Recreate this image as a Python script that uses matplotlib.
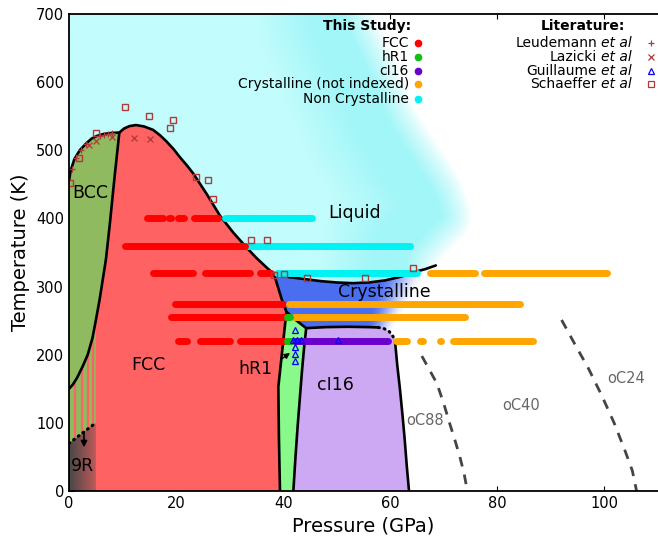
import numpy as np
import matplotlib.pyplot as plt
from matplotlib.patches import Polygon

# ---- phase boundaries (pressure GPa, temperature K) ----
bcc_melt_P = [0, 0.3, 1.0, 2.0, 3.2, 4.2, 5.2, 6.5, 8.0, 9.4]
bcc_melt_T = [455, 470, 487, 500, 510, 517, 521, 524, 525.5, 526]
fcc_melt_P = [9.4, 10.3, 11.3, 12.5, 14.0, 15.7, 17.0, 18.2, 19.5, 20.7, 22.0,
              23.2, 25.7, 28.2, 30.7, 33.2, 35.0, 36.9, 38.3]
fcc_melt_T = [526, 532, 535.5, 537, 535, 530, 522, 513, 502, 490, 478,
              466, 436, 404, 379, 357, 342, 328, 318]
cryst_melt_P = [38.3, 41, 44, 47, 50, 53, 56, 59, 62, 64.3, 66.5, 68.5]
cryst_melt_T = [318, 314, 311, 308, 306, 305, 306, 309, 314.5, 321, 325.5, 331]
bcc_fcc_P = [9.4, 8.5, 7.6, 6.9, 6.4, 5.7, 5.0, 4.4, 3.5, 2.5, 1.5, 0.7, 0]
bcc_fcc_T = [526, 460, 390, 340, 315, 280, 250, 225, 200, 182, 166, 156, 150]
fcc_cryst_P = [38.3, 39.0, 39.7, 40.6]
fcc_cryst_T = [318, 300, 282, 263]
fcc_hr1_P = [40.6, 39.1, 39.2, 39.4]
fcc_hr1_T = [263, 153, 80, 0]
hr1_top_P = [40.6, 42.5, 44.3]
hr1_top_T = [263, 250, 239]
hr1_ci16_P = [44.3, 43.9, 43.5, 43.1, 42.7, 42.3, 41.9]
hr1_ci16_T = [239, 210, 175, 135, 95, 50, 0]
ci16_top_P = [44.3, 48, 52, 56, 57.8]
ci16_top_T = [239, 240.5, 241, 240.5, 240]
ci16_dot_P = [57.8, 58.8, 59.8, 60.5, 60.9]
ci16_dot_T = [240, 238.5, 234, 227, 219]
ci16_right_P = [60.9, 61.3, 61.8, 62.3, 62.7, 63.1, 63.5]
ci16_right_T = [219, 185, 150, 110, 75, 35, 0]
r9_P = [0, 5]
r9_T = [70, 100]
liquid_edge_P = [57.0, 61.0, 64.8, 68.0, 71.0, 73.6, 75.0, 75.2, 74.2, 72.5, 70.5, 68.5]
liquid_edge_T = [700, 632, 560, 520, 485, 450, 415, 395, 378, 365, 348, 331]
oc88_P = [65.9, 67.3, 68.7, 70.0, 71.1, 72.1, 73.0, 73.8, 74.4]
oc88_T = [198, 178, 158, 128, 99, 74, 50, 25, 0]
oc24_P = [92.0, 94.5, 97.0, 99.5, 101.8, 103.8, 105.2, 106.0]
oc24_T = [251, 215, 180, 140, 100, 60, 30, 0]
stripe_P = [1.2, 2.35, 3.5, 4.5]

# ---- this study: runs of measured points (T, P start, P end) ----
fcc_runs = [(400, 14.6, 17.6), (400, 18.6, 19.0), (400, 20.3, 21.5), (400, 23.3, 27.9),
            (360, 10.4, 32.9),
            (320, 15.7, 23.2), (320, 25.4, 33.8), (320, 35.6, 37.8),
            (275, 19.8, 40.0),
            (255, 19.1, 40.5),
            (220, 20.4, 22.0), (220, 24.4, 30.1), (220, 31.9, 40.2)]
hr1_runs = [(255, 40.8, 41.2), (220, 40.7, 41.6)]
ci16_runs = [(220, 42.2, 59.6)]
cryst_runs = [(320, 67.4, 75.8), (320, 77.5, 100.4),
              (275, 41.0, 84.2),
              (255, 42.0, 74.0),
              (220, 61.1, 63.1), (220, 65.5, 66.2), (220, 69.2, 69.4), (220, 71.7, 86.7)]
noncryst_runs = [(400, 29.1, 45.3), (360, 33.4, 63.6), (320, 38.9, 64.9)]

# ---- literature ----
leud_P = [0.5, 1.3, 2.2, 3.2, 5.8, 6.6, 7.3, 8.1]
leud_T = [472, 488, 500, 509, 521, 523, 524.5, 525.5]
lazi_P = [3.7, 5.0, 8.0, 12.1, 15.1]
lazi_T = [508, 514, 519, 518, 516]
guil_P = [42.2, 41.9, 42.5, 43.3, 42.2, 42.2, 42.2, 50.2]
guil_T = [236, 221, 221, 221, 211, 201, 191, 221]
scha_P = [0.1, 1.9, 5.0, 10.5, 14.9, 18.9, 19.5, 23.7, 25.9, 26.8, 33.9, 37.0,
          38.3, 40.2, 44.5, 55.3, 64.3]
scha_T = [452, 489, 526, 563, 551, 533, 544, 461, 456, 428, 369, 368,
          317, 319, 313, 312, 327]

study_labels = ['FCC', 'hR1', 'cI16', 'Crystalline (not indexed)', 'Non Crystalline']
study_colors = ['#ff0000', '#10c010', '#6a00cc', '#ffa500', '#00f2f2']
lit_labels = ['Leudemann', 'Lazicki', 'Guillaume', 'Schaeffer']

c_fcc = '#ff6262'
c_bcc = '#8fba5f'
c_hr1 = '#88f98a'
c_ci16 = '#cda9f3'
c_blue = np.array([74, 110, 240]) / 255

plt.rcParams['font.family'] = 'DejaVu Sans'
fig = plt.figure(figsize=(6.58, 5.37), dpi=100)
ax = fig.add_axes([69 / 658, 46 / 537, 589 / 658, 477 / 537])
ax.set_xlim(0, 110)
ax.set_ylim(0, 700)
sx, sy = 589 / 110, 477 / 700  # pixels per unit


def pts(P, T):
    return list(zip(P, T))


def rev(P, T):
    return list(zip(P[::-1], T[::-1]))


# ---- liquid, soft cyan fill fading to white at its right edge ----
gP, gT = np.meshgrid(np.linspace(0, 110, 440), np.linspace(0, 700, 480))
d = np.full(gP.shape, 1e9)
for i in range(len(liquid_edge_P) - 1):
    ax_, ay_ = liquid_edge_P[i] * sx, liquid_edge_T[i] * sy
    bx, by = liquid_edge_P[i + 1] * sx, liquid_edge_T[i + 1] * sy
    dx, dy = bx - ax_, by - ay_
    u, v = gP * sx, gT * sy
    t = np.clip(((u - ax_) * dx + (v - ay_) * dy) / (dx * dx + dy * dy), 0, 1)
    d = np.minimum(d, np.hypot(u - (ax_ + t * dx), v - (ay_ + t * dy)))
white = np.ones(3)
bright = np.array([162, 246, 248]) / 255
pale = np.array([194, 252, 252]) / 255
a = np.clip(d / 30, 0, 1)[..., None] ** 0.8
b = np.clip((d - 62) / 55, 0, 1)[..., None]
liq = (white * (1 - a) + bright * a) * (1 - b) + pale * b
liq_poly = Polygon([(0, 700)] + pts(liquid_edge_P, liquid_edge_T)
                   + rev(cryst_melt_P, cryst_melt_T)[1:]
                   + rev(fcc_melt_P, fcc_melt_T)[1:]
                   + rev(bcc_melt_P, bcc_melt_T)[1:],
                   closed=True, transform=ax.transData)
im = ax.imshow(liq, origin='lower', extent=[0, 110, 0, 700], aspect='auto',
               interpolation='bilinear', zorder=1)
im.set_clip_path(liq_poly)

# ---- crystalline (blue) fading out towards higher pressure ----
p0 = 55.5 + 0.03 * (gT - 240)
p1 = 61.0 + 0.08 * (gT - 240)
f = np.clip((gP - p0) / (p1 - p0), 0, 1)
alpha = 1 - f * f * (3 - 2 * f)
cry = np.zeros(gP.shape + (4,))
cry[..., :3] = c_blue
cry[..., 3] = alpha
cry_poly = Polygon(pts(cryst_melt_P, cryst_melt_T) + [(ci16_dot_P[-1], ci16_dot_T[-1])]
                   + rev(ci16_dot_P, ci16_dot_T)[1:] + rev(ci16_top_P, ci16_top_T)[1:]
                   + rev(hr1_top_P, hr1_top_T)[1:] + rev(fcc_cryst_P, fcc_cryst_T)[1:],
                   closed=True, transform=ax.transData)
im2 = ax.imshow(cry, origin='lower', extent=[0, 110, 0, 700], aspect='auto',
                interpolation='bilinear', zorder=1)
im2.set_clip_path(cry_poly)

# ---- solid phases ----
fcc_poly = [(0, 0)] + rev(fcc_hr1_P, fcc_hr1_T) + rev(fcc_cryst_P, fcc_cryst_T)[1:] \
    + rev(fcc_melt_P, fcc_melt_T)[1:] + pts(bcc_fcc_P, bcc_fcc_T)[1:]
ax.add_patch(Polygon(fcc_poly, closed=True, fc=c_fcc, ec='none', zorder=1.5))
bcc_poly = pts(bcc_melt_P, bcc_melt_T) + pts(bcc_fcc_P, bcc_fcc_T)[1:]
ax.add_patch(Polygon(bcc_poly, closed=True, fc=c_bcc, ec='none', zorder=1.5))
hr1_poly = pts(hr1_top_P, hr1_top_T) + pts(hr1_ci16_P, hr1_ci16_T)[1:] \
    + rev(fcc_hr1_P, fcc_hr1_T)[:-1]
ax.add_patch(Polygon(hr1_poly, closed=True, fc=c_hr1, ec='none', zorder=1.5))
ci16_poly = pts(ci16_top_P, ci16_top_T) + pts(ci16_dot_P, ci16_dot_T)[1:] \
    + pts(ci16_right_P, ci16_right_T)[1:] + rev(hr1_ci16_P, hr1_ci16_T)[:-1]
ax.add_patch(Polygon(ci16_poly, closed=True, fc=c_ci16, ec='none', zorder=1.5))

# 9R corner: grey-to-red gradient below the dotted line
r9_poly = Polygon([(0, 0), (r9_P[1], 0), (r9_P[1], r9_T[1]), (r9_P[0], r9_T[0])],
                  closed=True, transform=ax.transData)
xs = np.linspace(0, 1, 64)
grad = np.array([72, 72, 72]) / 255 * (1 - xs[:, None]) + np.array([190, 88, 88]) / 255 * xs[:, None]
im3 = ax.imshow(grad[None, :, :], origin='lower', extent=[0, r9_P[1], 0, r9_T[1]],
                aspect='auto', interpolation='bilinear', zorder=1.6)
im3.set_clip_path(r9_poly)
ax.set_xlim(0, 110)
ax.set_ylim(0, 700)

# striped mixed region between 9R and BCC
keep = [i for i in range(len(bcc_fcc_P)) if bcc_fcc_P[i] <= r9_P[1]]
stripe_poly = Polygon([(r9_P[0], r9_T[0]), (r9_P[1], r9_T[1])]
                      + [(bcc_fcc_P[i], bcc_fcc_T[i]) for i in keep],
                      closed=True, fc=c_bcc, ec='none', zorder=1.6)
ax.add_patch(stripe_poly)
vl = ax.vlines(stripe_P, 0, 300, colors=c_fcc, lw=1.6, zorder=1.7)
vl.set_clip_path(stripe_poly)

# ---- boundary lines ----
blk = dict(color='black', lw=1.9, zorder=4, solid_capstyle='round', solid_joinstyle='round')
ax.plot(bcc_melt_P + fcc_melt_P[1:] + cryst_melt_P[1:],
        bcc_melt_T + fcc_melt_T[1:] + cryst_melt_T[1:], **blk)
ax.plot(bcc_fcc_P, bcc_fcc_T, **blk)
ax.plot(fcc_cryst_P + fcc_hr1_P[1:], fcc_cryst_T + fcc_hr1_T[1:], **blk)
ax.plot(hr1_top_P + ci16_top_P[1:], hr1_top_T + ci16_top_T[1:], **blk)
ax.plot(hr1_ci16_P, hr1_ci16_T, **blk)
ax.plot(ci16_right_P, ci16_right_T, **blk)
dots = dict(color='black', lw=2.2, ls=(0, (0.3, 1.6)), dash_capstyle='round', zorder=4)
ax.plot(ci16_dot_P, ci16_dot_T, **dots)
ax.plot(r9_P, r9_T, **dots)

dash = dict(color='#444444', lw=2.0, ls=(0, (3.5, 3)), zorder=3)
ax.plot(oc88_P, oc88_T, **dash)
ax.plot(oc24_P, oc24_T, **dash)

# ---- measured points ----
for runs, col in zip([noncryst_runs, fcc_runs, cryst_runs, hr1_runs, ci16_runs],
                     [study_colors[4], study_colors[0], study_colors[3],
                      study_colors[1], study_colors[2]]):
    for T, pa, pb in runs:
        ax.plot([pa, pb], [T, T], color=col, lw=5, solid_capstyle='round', zorder=5)

lit_red = '#b03a3a'
ax.plot(leud_P, leud_T, ls='none', marker='+', ms=5, mew=0.9, color=lit_red, zorder=6)
ax.plot(lazi_P, lazi_T, ls='none', marker='x', ms=4.5, mew=0.9, color=lit_red, zorder=6)
ax.plot(guil_P, guil_T, ls='none', marker='^', ms=4.5, mew=0.9, mfc='none', mec='#0000ff', zorder=6)
ax.plot(scha_P, scha_T, ls='none', marker='s', ms=5, mew=1.0, mfc='none', mec=lit_red, zorder=6)

# ---- region labels ----
lab = dict(fontsize=12.5, ha='center', va='center', zorder=7)
ax.text(4.0, 437, 'BCC', **lab)
ax.text(14.8, 185, 'FCC', **lab)
ax.text(34.9, 179, 'hR1', **lab)
ax.text(49.7, 156, 'cI16', **lab)
ax.text(58.8, 292, 'Crystalline', **lab)
ax.text(53.4, 408, 'Liquid', **lab)
ax.text(2.6, 37, '9R', **lab)
gl = dict(fontsize=10.5, ha='center', va='center', color='#666666', zorder=7)
ax.text(66.5, 104, 'oC88', **gl)
ax.text(84.5, 126, 'oC40', **gl)
ax.text(104.1, 165, 'oC24', **gl)
ax.annotate('', xy=(41.7, 205), xytext=(39.4, 192),
            arrowprops=dict(arrowstyle='-|>', color='black', lw=1, mutation_scale=8), zorder=7)
ax.annotate('', xy=(2.8, 60), xytext=(2.8, 90),
            arrowprops=dict(arrowstyle='-|>', color='black', lw=1.2, mutation_scale=9), zorder=7)

# ---- legends ----
rows_T = [657, 636.5, 616.8, 596.8, 575.3]
ax.text(63.9, 683, 'This Study:', fontsize=10, fontweight='bold', ha='right', va='center', zorder=7)
for lbl, col, T in zip(study_labels, study_colors, rows_T):
    ax.text(63.5, T, lbl, fontsize=10, ha='right', va='center', zorder=7)
    ax.plot([65.2], [T], ls='none', marker='o', ms=4.5, color=col, zorder=7)
ax.text(103.8, 683, 'Literature:', fontsize=10, fontweight='bold', ha='right', va='center', zorder=7)
lit_marks = [dict(marker='+', mfc=lit_red, mec=lit_red), dict(marker='x', mfc=lit_red, mec=lit_red),
             dict(marker='^', mfc='none', mec='#0000ff'), dict(marker='s', mfc='none', mec=lit_red)]
for lbl, mk, T in zip(lit_labels, lit_marks, rows_T):
    ax.text(98.6, T, lbl, fontsize=10, ha='right', va='center', zorder=7)
    ax.text(105.1, T, 'et al', fontsize=10, style='italic', ha='right', va='center', zorder=7)
    ax.plot([108.6], [T], ls='none', ms=4.5, mew=0.9, clip_on=False, zorder=7, **mk)

ax.set_xlabel('Pressure (GPa)', fontsize=14)
ax.set_ylabel('Temperature (K)', fontsize=14)
ax.set_xticks([0, 20, 40, 60, 80, 100])
ax.set_yticks(range(0, 701, 100))
ax.tick_params(direction='in', top=True, right=False, length=3.5, labelsize=10.5)
ax.set_axisbelow(True)
ax.spines['right'].set_visible(False)
for s in ['left', 'bottom', 'top']:
    ax.spines[s].set_linewidth(1.3)
    ax.spines[s].set_zorder(8)

fig.savefig('out.png', dpi=100)
